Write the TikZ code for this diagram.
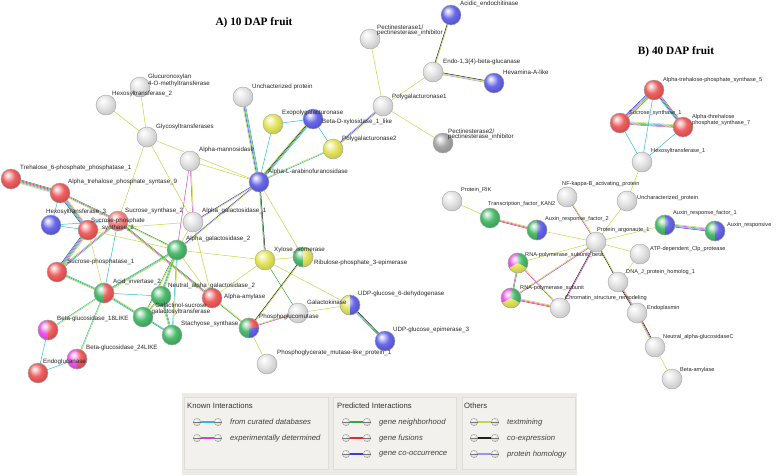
\documentclass[tikz,border=0pt]{standalone}
\usepackage{fontspec}
\setmainfont{Liberation Sans}
\newfontfamily\titlefont{Liberation Serif}
\usetikzlibrary{calc}

%Evidence colours
\definecolor{ccur}{RGB}{40,190,215}
\definecolor{cexp}{RGB}{205,70,205}
\definecolor{cnbh}{RGB}{50,170,60}
\definecolor{cfus}{RGB}{225,45,45}
\definecolor{cocc}{RGB}{60,60,215}
\definecolor{ctxt}{RGB}{195,215,70}
\definecolor{ccoe}{RGB}{30,30,30}
\definecolor{chom}{RGB}{150,150,240}

%Protein colours
\definecolor{nred}{RGB}{235,80,80}
\definecolor{npnk}{RGB}{242,120,120}
\definecolor{nblue}{RGB}{90,90,230}
\definecolor{nyel}{RGB}{225,225,80}
\definecolor{ngrn}{RGB}{60,180,95}
\definecolor{ngry}{RGB}{225,225,225}
\definecolor{ndgry}{RGB}{160,160,160}
\definecolor{nmag}{RGB}{235,70,230}

%Legend colours
\definecolor{lgback}{RGB}{236,235,230}
\definecolor{lgbox}{RGB}{242,241,237}
\definecolor{lgline}{RGB}{222,221,215}

% glossy sphere, lighter than the ball shading
\colorlet{sphc}{ngry}
\pgfdeclareradialshading[sphc]{sphere}{\pgfpoint{-9bp}{11bp}}{%
	color(0bp)=(white); color(5bp)=(sphc!25!white); color(16bp)=(sphc!90!white);
	color(30bp)=(sphc!88!black); color(38bp)=(sphc!65!black); color(50bp)=(sphc!55!black)}

\pgfdeclarelayer{edges}
\pgfsetlayers{edges,main}

% parallel lines between two proteins, one per evidence
\newcommand{\plink}[3]{%
	\foreach \col [count=\k] in {#3}{
		\pgfmathsetmacro{\off}{cos(\k*180)*int(\k/2)*0.9}
		\draw[\col, line width=0.5pt] ($(#1)!\off pt!90:(#2)$) -- ($(#2)!\off pt!-90:(#1)$);
	}}

% protein with several colours
\newcommand{\pienode}[2]{%
	\foreach \col/\sa/\ea in {#2}{
		\begin{scope}
			\clip (#1.center) -- ++(\sa:10pt) arc[start angle=\sa, end angle=\ea, radius=10pt] -- cycle;
			\shade[sball=\col] (#1.center) circle[radius=10pt];
		\end{scope}}
	\draw[black!35, thin] (#1.center) circle[radius=10pt];}

\tikzset{
	sball/.code={\colorlet{sphc}{#1}\tikzset{shade, shading=sphere}},
	prot/.style={circle, minimum size=20pt, inner sep=0pt, draw=black!35, thin},
	lblA/.style={font=\fontsize{6.2}{5.6}\selectfont, anchor=west, inner sep=0pt, align=left, text=black!85},
	lblB/.style={font=\fontsize{5.6}{5.6}\selectfont, anchor=west, inner sep=0pt, align=left, text=black!85},
	ttl/.style={font=\titlefont\fontsize{11.3}{12}\selectfont\bfseries, inner sep=0pt},
	lghead/.style={font=\fontsize{7.7}{8}\selectfont, anchor=west, inner sep=0pt, text=black!80},
	lgtext/.style={font=\fontsize{7.7}{8}\selectfont\itshape, anchor=west, inner sep=0pt, text=black!75},
	lgball/.style={sball=ngry, draw=black!50, very thin}
}

\begin{document}
\begin{tikzpicture}[x=1pt,y=-1pt]

\useasboundingbox (0,0) rectangle (778,475);

%Titles
\node[ttl] (titleA) at (254,23) {A) 10 DAP fruit};
\node[ttl] (titleB) at (676,52) {B) 40 DAP fruit};

%%%%%%%%%%%%%%%%%%
%Proteins, 10 DAP

\foreach \n/\x/\y in {glx/140/87, hex2/106/105, gt/147/137, am/190/161, unc/243/97, pg1/383/106,
	pe1/370/39, endo/433/72, ag1/193/222, gk/298/313, pgml/267/364}
	\node[prot, sball=ngry] (\n) at (\x,\y) {};
\node[prot, sball=ndgry] (pe2) at (443,143) {};

\foreach \n/\x/\y in {t6p/11/179, ats9/60/193, sps2/88/230, spp1/57/272, aa/212/298, eg/38/373}
	\node[prot, sball=nred] (\n) at (\x,\y) {};
\node[prot, sball=npnk] (sus2) at (118,221) {};

\foreach \n/\x/\y in {bdx/313/119, ala/259/182, ach/451/15, hev/494/83, hex3/51/225, uge3/385/341}
	\node[prot, sball=nblue] (\n) at (\x,\y) {};

\foreach \n/\x/\y in {exo/273/124, pg2/333/149, xi/265/260}
	\node[prot, sball=nyel] (\n) at (\x,\y) {};

\foreach \n/\x/\y in {ag2/177/250, na2/161/296, gs/143/317, ss/172/335}
	\node[prot, sball=ngrn] (\n) at (\x,\y) {};

\foreach \n/\x/\y in {ai2/104/293, bg18/48/330, bg24/77/359, rpe/303/257, pgm/249/328, ugd/350/305}
	\node[prot] (\n) at (\x,\y) {};

%%%%%%%%%%%%%%%%%%
%Proteins, 40 DAP

\foreach \n/\x/\y in {ats5/654/90, sus1/620/123, ats7/683/127}
	\node[prot, sball=nred] (\n) at (\x,\y) {};

\foreach \n/\x/\y in {hex1/642/162, nfkb/567/197, uncb/627/201, rik/452/201, ago/596/242,
	atp/640/254, dnaj/618/282, chrom/560/308, endp/637/313, nagc/655/347, bamy/672/379}
	\node[prot, sball=ngry] (\n) at (\x,\y) {};

\node[prot, sball=ngrn] (kan2) at (490,218) {};

\foreach \n/\x/\y in {arf2/537/230, arf1/665/225, auxr/715/231, rnapb/518/263, rnap/511/298}
	\node[prot] (\n) at (\x,\y) {};

% several colours
\pienode{ai2}{ngrn/90/270, nred/-90/90}
\pienode{bg18}{nmag/90/270, nred/-90/90}
\pienode{bg24}{nmag/90/270, nred/-90/90}
\pienode{rpe}{ngrn/90/270, nyel/-90/90}
\pienode{pgm}{ngrn/90/270, nred/0/90, nblue/-90/0}
\pienode{ugd}{nyel/90/270, nblue/-90/90}
\pienode{arf2}{ngrn/90/270, nblue/-90/90}
\pienode{arf1}{ngrn/90/270, nblue/-90/90}
\pienode{auxr}{ngrn/90/270, nblue/-90/90}
\pienode{rnapb}{nmag/90/210, ngrn/-30/90, nyel/210/330}
\pienode{rnap}{nmag/90/210, ngrn/-30/90, nyel/210/330}

%%%%%%%%%%%%%%%%%%
%Lines

\begin{pgfonlayer}{edges}
\plink{t6p}{ats9}{cexp,cfus,ccur,cnbh,ctxt}
\plink{ats9}{hex3}{ccur}
\plink{ats9}{sps2}{ccur,cexp,cnbh,ctxt,cocc}
\plink{ats9}{sus2}{cexp,cnbh,ctxt}
\plink{hex3}{sps2}{ccur}
\plink{hex3}{sus2}{ccur}
\plink{sps2}{spp1}{cexp,ccur,cnbh,ctxt,cocc}
\plink{sus2}{spp1}{cexp,ccur,ctxt}
\plink{spp1}{ai2}{cnbh,ccur,ctxt}
\plink{sus2}{ai2}{ccur}
\plink{sps2}{ai2}{ctxt}
\plink{sus2}{aa}{cexp,cnbh,ctxt}
\plink{sps2}{ag1}{ctxt}
\plink{sus2}{ag2}{ctxt,cnbh}
\plink{sps2}{ag2}{ctxt}
\plink{gt}{hex2}{ctxt}
\plink{gt}{glx}{ctxt}
\plink{gt}{sus2}{ctxt}
\plink{gt}{ag1}{ctxt}
\plink{gt}{ala}{ctxt}
\plink{am}{ala}{ctxt}
\plink{am}{ag1}{cexp,ctxt}
\plink{am}{ag2}{cexp}
\plink{ala}{ag1}{cocc,ctxt}
\plink{ala}{ag2}{cocc,ctxt}
\plink{ala}{unc}{ccur,cocc,cnbh,ctxt}
\plink{ala}{exo}{ccur}
\plink{ala}{bdx}{cnbh,ccoe,ccur,ctxt}
\plink{ala}{pg2}{ccur,ctxt}
\plink{ala}{xi}{cnbh,ccoe}
\plink{ala}{rpe}{ctxt}
\plink{exo}{bdx}{ccur}
\plink{bdx}{pg2}{ccur}
\plink{pg2}{pg1}{cocc,chom,ctxt}
\plink{pg1}{pe1}{ctxt}
\plink{pg1}{endo}{ctxt}
\plink{pg1}{pe2}{ctxt}
\plink{endo}{ach}{ctxt,ccoe}
\plink{endo}{hev}{ctxt,ccoe,chom}
\plink{ag1}{ag2}{ctxt}
\plink{ag1}{aa}{ctxt}
\plink{ag2}{xi}{ctxt}
\plink{ag2}{aa}{ctxt}
\plink{ag2}{ai2}{ccur,ctxt,cnbh}
\plink{ag2}{na2}{cnbh,ctxt,ccur}
\plink{ag2}{gs}{cnbh,ctxt}
\plink{ag2}{ss}{ccur,ctxt}
\plink{ai2}{na2}{ccur}
\plink{ai2}{gs}{cnbh,ctxt,ccur}
\plink{ai2}{bg18}{ccur,ctxt}
\plink{ai2}{bg24}{ccur,ctxt}
\plink{bg18}{eg}{ccur}
\plink{bg24}{eg}{ccur}
\plink{na2}{gs}{cnbh,ctxt}
\plink{na2}{ss}{cnbh,ccur,ctxt}
\plink{gs}{ss}{cnbh,ccur}
\plink{xi}{rpe}{ctxt}
\plink{xi}{aa}{ctxt}
\plink{xi}{gk}{cnbh}
\plink{xi}{ugd}{ctxt}
\plink{rpe}{pgm}{ccoe,ctxt}
\plink{aa}{pgm}{cnbh,ctxt}
\plink{pgm}{gk}{cexp,ctxt}
\plink{pgm}{pgml}{ctxt}
\plink{gk}{ugd}{ctxt}
\plink{ugd}{uge3}{cnbh,ccoe,ccur}

\plink{ats5}{sus1}{cexp,ctxt,ccur,cnbh,cocc}
\plink{ats5}{ats7}{cocc,cnbh,ccur,cexp}
\plink{sus1}{ats7}{cnbh,ccur,cexp,ctxt}
\plink{ats5}{hex1}{ccur}
\plink{sus1}{hex1}{ccur}
\plink{ats7}{hex1}{ccur}
\plink{hex1}{uncb}{ctxt}
\plink{uncb}{ago}{ctxt}
\plink{nfkb}{ago}{cexp,ctxt}
\plink{rik}{kan2}{ctxt}
\plink{kan2}{arf2}{cexp,ctxt,cfus}
\plink{arf2}{ago}{ctxt}
\plink{ago}{arf1}{ctxt}
\plink{arf1}{auxr}{ccur,cexp,cocc,ctxt}
\plink{ago}{atp}{ctxt}
\plink{atp}{dnaj}{ctxt}
\plink{ago}{rnapb}{ctxt}
\plink{ago}{rnap}{ctxt,cexp}
\plink{ago}{chrom}{ccoe,cexp}
\plink{ago}{dnaj}{ccoe,ctxt}
\plink{rnapb}{rnap}{cexp,cnbh}
\plink{rnapb}{chrom}{cexp,ctxt}
\plink{rnap}{chrom}{cexp,ctxt,cfus}
\plink{dnaj}{endp}{cexp,ctxt,ccoe}
\plink{endp}{nagc}{cexp,ccoe,ctxt}
\plink{nagc}{bamy}{ctxt}
\end{pgfonlayer}

%%%%%%%%%%%%%%%%%%
% Labels

\foreach \n/\x/\y/\t in {glx/148/80.5/{Glucuronoxylan\\4-O-methyltransferase}, hex2/112/94/{Hexosyltransferase\_2},
	gt/156/127/{Glycosyltransferases}, am/199/150/{Alpha-mannosidase}, unc/252/87/{Unchacterized protein},
	exo/282/113/{Exopolygalacturonase}, bdx/322/122/{Beta-D-xylosidase\_1\_like}, pg2/342/139/{Polygalacturonase2},
	ala/268/172/{Alpha-L-arabinofuranosidase}, pg1/392/97/{Polygalacturonase1},
	pe1/377/30.5/{Pectinesterase1/\\ pectinesterase\_inhibitor}, endo/443/62/{Endo-1,3(4)-beta-glucanase},
	ach/460/4/{Acidic\_endochitinase}, hev/503/72/{Hevamina-A-like},
	pe2/448/134.5/{Pectinesterase2/\\ pectinesterase\_inhibitor},
	t6p/20/168/{Trehalose\_6-phosphate\_phosphatase\_1}, ats9/68/182/{Alpha\_trehalose\_phosphate\_syntase\_9},
	hex3/46/212/{Hexosyltransferase\_3}, sus2/125/211/{Sucrose\_synthase\_2}, spp1/67/262/{Sucrose-phosphatase\_1},
	ai2/113/282/{Acid\_invertase\_2}, ag2/186/239/{Alpha\_galactosidase\_2}, ag1/202/211/{Alpha\_galactosidase\_1},
	na2/168/286/{Neutral\_alpha\_galactosidase\_2}, ss/181/324/{Stachyose\_synthase}, aa/224/297/{Alpha-amylase},
	bg18/57/319/{Beta-glucosidase\_18LIKE}, bg24/86/348/{Beta-glucosidase\_24LIKE}, eg/43/362/{Endoglucanase},
	xi/274/250/{Xylose\_isomerase}, rpe/314/263/{Ribulose-phosphate\_3-epimerase}, gk/307/302/{Galactokinase},
	pgm/259/317/{Phosphoglucomutase}, ugd/358/294/{UDP-glucose\_6-dehydogenase},
	uge3/393/330/{UDP-glucose\_epimerase\_3}, pgml/277/353/{Phosphoglycerate\_mutase-like\_protein\_1}}
	\node[lblA] (l-\n) at (\x,\y) {\t};

\node[lblA, anchor=center, align=center] (l-sps2) at (118,224) {Sucrose-phosphate\\synthase\_2};
\node[lblA, anchor=center, align=center] (l-gs) at (181,309) {Galactinol-sucrose\\galactosyltransferase};

\foreach \n/\x/\y/\t in {ats5/663/80/{Alpha-trehalose-phosphate\_synthase\_5}, sus1/629/113/{Sucrose\_synthase\_1},
	ats7/692/120/{Alpha-threhalose\\phosphate\_synthase\_7}, hex1/651/151/{Hexosyltransferase\_1},
	nfkb/562/184/{NF-kappa-B\_activating\_protein}, uncb/637/198/{Uncharacterized\_protein},
	rik/461/190/{Protein\_RIK}, kan2/488/204/{Transcription\_factor\_KAN2}, arf2/545/219/{Auxin\_response\_factor\_2},
	ago/597/230/{Protein\_argonaute\_1}, arf1/673/213/{Auxin\_response\_factor\_1}, auxr/727/225/{Auxin\_responsive},
	atp/650/249/{ATP-dependent\_Clp\_protease}, rnapb/525/255/{RNA-polymerase\_subunit\_beta},
	dnaj/626/272/{DNA\_J\_protein\_homolog\_1}, rnap/520/288/{RNA-polymerase\_subunit},
	chrom/565/298/{Chromatin\_structure\_remodeling}, endp/647/308/{Endoplasmin},
	nagc/663/337/{Neutral\_alpha-glucosidaseC}, bamy/680/370/{Beta-amylase}}
	\node[lblB] (l-\n) at (\x,\y) {\t};

%%%%%%%%%%%%%%%%%%
% Legend

\fill[lgback] (182,393) rectangle (577,475);
\foreach \a/\b in {184/328, 333/456, 462/575}
	\draw[lgline, fill=lgbox] (\a,397) rectangle (\b,469);

\node[lghead] (h-known) at (187,406) {Known Interactions};
\node[lghead] (h-pred) at (337,406) {Predicted Interactions};
\node[lghead] (h-oth) at (464,406) {Others};

\foreach \x/\y/\col/\t [count=\i] in {197/422/ccur/{from curated databases}, 197/438/cexp/{experimentally determined},
	346/422/cnbh/{gene neighborhood}, 346/438/cfus/{gene fusions}, 346/454/cocc/{gene co-occurrence},
	474/422/ctxt/{textmining}, 474/438/ccoe/{co-expression}, 474/454/chom/{protein homology}}
{
	\node[lgball, circle, minimum size=7.5pt, inner sep=0pt] (ka\i) at (\x,\y) {};
	\node[lgball, circle, minimum size=7.5pt, inner sep=0pt] (kb\i) at (\x+21,\y) {};
	\draw[\col, line width=1.2pt] (ka\i.east) -- (kb\i.west);
	\draw[black!55, very thin] (ka\i.west) -- (ka\i.east);
	\draw[black!55, very thin] (kb\i.west) -- (kb\i.east);
	\node[lgtext] (kt\i) at (\x+33,\y) {\t};
}

\end{tikzpicture}
\end{document}
